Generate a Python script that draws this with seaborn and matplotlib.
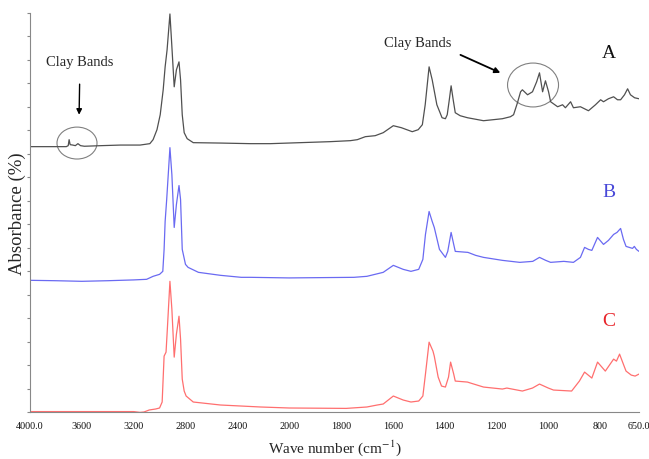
import matplotlib
matplotlib.use('Agg')
import matplotlib.pyplot as plt
from matplotlib.patches import Ellipse
import seaborn as sns
import numpy as np
import pandas as pd

# spectra (wavenumber in cm-1, absorbance offset per sample)
wn_a = [4000, 3850, 3720, 3705, 3698, 3690, 3670, 3650, 3630, 3610, 3580, 3450, 3300, 3150, 3075,
        3050, 3020, 2995, 2972, 2957, 2942, 2920, 2908, 2887, 2870, 2850, 2838, 2825, 2810, 2787,
        2740, 2530, 2300, 2145, 1957, 1842, 1764, 1737, 1706, 1668, 1637, 1598, 1567, 1525, 1502,
        1486, 1475, 1460, 1448, 1430, 1410, 1397, 1390, 1382, 1375, 1367, 1359, 1340, 1312, 1250,
        1177, 1146, 1134, 1119, 1107, 1100, 1080, 1061, 1045, 1034, 1022, 1011, 999, 991, 964,
        945, 934, 914, 903, 876, 845, 818, 798, 787, 768, 748, 733, 721, 706, 694, 683, 667, 650]
abs_a = [66.5, 66.5, 66.5, 66.75, 68.25, 67.0, 66.9, 66.75, 67.25, 66.75, 66.6, 66.75, 66.9, 66.9, 67.25,
         68.25, 70.75, 74.5, 80.75, 86.5, 90.75, 99.75, 93.25, 81.5, 85.75, 87.75, 83.25, 74.5, 70.0, 68.5,
         67.5, 67.4, 67.25, 67.25, 67.5, 67.75, 68.0, 68.25, 69.0, 69.25, 70.0, 71.75, 71.25, 70.25, 70.75,
         72.0, 77.0, 86.5, 83.25, 77.0, 73.75, 73.5, 74.5, 78.25, 81.75, 78.25, 75.0, 74.25, 73.75, 73.0,
         73.5, 74.0, 74.5, 77.5, 80.25, 80.75, 79.5, 80.25, 82.75, 85.0, 80.25, 83.0, 80.25, 77.75, 76.5,
         77.0, 76.25, 77.75, 76.25, 76.5, 75.5, 77.0, 78.25, 77.75, 78.5, 79.0, 78.25, 78.25, 79.5, 81.0,
         79.5, 78.75, 78.5]

wn_b = [4000, 3800, 3600, 3400, 3200, 3100, 3050, 3000, 2975, 2965, 2957, 2945, 2920, 2905, 2887,
        2870, 2850, 2838, 2825, 2800, 2780, 2700, 2530, 2370, 2300, 2000, 1750, 1700, 1637, 1598,
        1560, 1530, 1500, 1484, 1474, 1460, 1448, 1440, 1420, 1397, 1388, 1375, 1365, 1359, 1310,
        1280, 1250, 1177, 1110, 1060, 1034, 1010, 991, 940, 903, 876, 860, 845, 832, 810,
        787, 768, 748, 735, 721, 710, 700, 675, 668, 660, 650]
abs_b = [33.0, 32.9, 32.75, 32.9, 33.1, 33.25, 34.0, 34.5, 35.25, 40.75, 47.75, 53.25, 66.25, 59.5, 46.25,
         52.0, 56.75, 53.25, 40.75, 37.0, 36.25, 35.0, 34.25, 33.75, 33.75, 33.6, 33.75, 34.0, 35.0, 36.75,
         35.75, 35.25, 35.75, 38.25, 44.5, 50.25, 47.75, 46.25, 40.75, 38.75, 40.25, 45.0, 42.0, 40.25, 40.0,
         39.25, 38.75, 38.0, 37.5, 37.75, 38.75, 38.0, 37.5, 37.75, 37.5, 38.75, 41.25, 40.75, 40.5, 43.75,
         42.0, 43.0, 44.5, 45.0, 46.0, 43.25, 41.5, 41.0, 41.5, 40.75, 40.25]

wn_c = [4000, 3600, 3200, 3150, 3120, 3080, 3030, 3000, 2980, 2965, 2950, 2940, 2920, 2905, 2887,
        2870, 2850, 2838, 2825, 2810, 2795, 2740, 2530, 2220, 2000, 1780, 1700, 1660, 1637, 1598,
        1560, 1530, 1500, 1484, 1474, 1460, 1445, 1440, 1425, 1412, 1397, 1385, 1377, 1365, 1359,
        1312, 1300, 1250, 1177, 1160, 1100, 1061, 1034, 1000, 980, 910, 880, 860, 832, 810,
        780, 748, 737, 725, 706, 700, 680, 665, 650]
abs_c = [0.1, 0.1, 0.1, -0.1, 0.0, 0.5, 0.75, 1.0, 2.5, 14.0, 15.0, 20.75, 32.75, 25.75, 13.75,
         19.5, 24.0, 18.25, 8.25, 5.25, 4.0, 2.5, 1.75, 1.25, 1.0, 0.9, 1.25, 1.75, 2.0, 4.0,
         3.0, 2.5, 2.75, 4.0, 9.5, 17.5, 15.25, 14.0, 8.75, 6.5, 6.25, 8.75, 12.5, 9.5, 7.75,
         7.5, 7.25, 6.25, 5.75, 6.0, 5.25, 6.0, 7.0, 6.0, 5.5, 5.25, 7.75, 10.0, 8.5, 12.5,
         10.25, 13.25, 12.75, 14.5, 11.25, 10.25, 9.25, 9.0, 9.5]

samples = ['A', 'B', 'C']
line_colors = {'A': '#505050', 'B': '#6a6af2', 'C': '#ff6f6f'}
label_colors = {'A': '#111111', 'B': '#4848d8', 'C': '#e8242a'}
label_y = {'A': 90.0, 'B': 55.25, 'C': 23.0}

xticks = [4000, 3600, 3200, 2800, 2400, 2000, 1800, 1600, 1400, 1200, 1000, 800, 650]
xtick_labels = ['4000.0', '3600', '3200', '2800', '2400', '2000', '1800', '1600',
                '1400', '1200', '1000', '800', '650.0']


def forward(x):
    # spectrometer display: 4000-2000 region drawn at half scale
    x = np.asarray(x, dtype=float)
    return np.where(x > 2000, 2000 + (x - 2000) / 2, x)


def inverse(t):
    t = np.asarray(t, dtype=float)
    return np.where(t > 2000, 2000 + 2 * (t - 2000), t)


df = pd.concat([
    pd.DataFrame({'wavenumber': wn_a, 'absorbance': abs_a, 'sample': 'A'}),
    pd.DataFrame({'wavenumber': wn_b, 'absorbance': abs_b, 'sample': 'B'}),
    pd.DataFrame({'wavenumber': wn_c, 'absorbance': abs_c, 'sample': 'C'}),
])

sns.set_style('white')
plt.rcParams['font.family'] = ['Liberation Serif', 'DejaVu Serif']
plt.rcParams['mathtext.fontset'] = 'stix'

fig = plt.figure(figsize=(6.49, 4.60), dpi=100)
ax = fig.add_axes([0.0462, 0.1022, 0.9384, 0.8674])

sns.lineplot(data=df, x='wavenumber', y='absorbance', hue='sample', palette=line_colors,
             sort=False, estimator=None, legend=False, linewidth=0.9, ax=ax)

ax.set_xscale('function', functions=(forward, inverse))
ax.set_xlim(4000, 650)
ax.set_ylim(0, 100)
ax.set_xticks(xticks)
ax.set_xticklabels(xtick_labels)
ax.set_yticks(np.linspace(0, 100, 18))
ax.set_yticklabels([])
ax.tick_params(axis='both', direction='out', length=2.5, width=0.8, color='#888888')
ax.tick_params(axis='x', labelsize=7.3, pad=4, labelcolor='#111111')
ax.tick_params(axis='y', left=True, length=2.5)

for side in ['top', 'right']:
    ax.spines[side].set_visible(False)
for side in ['left', 'bottom']:
    ax.spines[side].set_color('#888888')
    ax.spines[side].set_linewidth(0.8)

ax.set_xlabel('Wave number (cm$^{-1}$)', fontsize=11, labelpad=5)
ax.set_ylabel('Absorbance (%)', fontsize=13.5)
ax.yaxis.set_label_coords(-0.006, 0.5)

for s in samples:
    ax.text(767, label_y[s], s, color=label_colors[s], fontsize=14, ha='center', va='center')

# clay band annotations
ax.annotate('Clay Bands', xy=(3621, 74.5), xytext=(3614, 87.75), fontsize=10.5,
            ha='center', va='center',
            arrowprops=dict(arrowstyle='-|>', color='black', lw=1.0, mutation_scale=8,
                            shrinkA=9, shrinkB=0))
ax.annotate('', xy=(1185, 85.0), xytext=(1339, 89.5),
            arrowprops=dict(arrowstyle='-|>', color='black', lw=1.3, mutation_scale=8,
                            shrinkA=0, shrinkB=0))
ax.text(1505, 92.5, 'Clay Bands', fontsize=10.5, ha='center', va='center')

ax.add_patch(Ellipse((0.0772, 0.674), 0.0657, 0.080, transform=ax.transAxes,
                     fill=False, edgecolor='#808080', lw=0.8))
ax.add_patch(Ellipse((0.826, 0.8195), 0.0837, 0.110, transform=ax.transAxes,
                     fill=False, edgecolor='#808080', lw=0.8))

fig.savefig('out.png', dpi=100)
